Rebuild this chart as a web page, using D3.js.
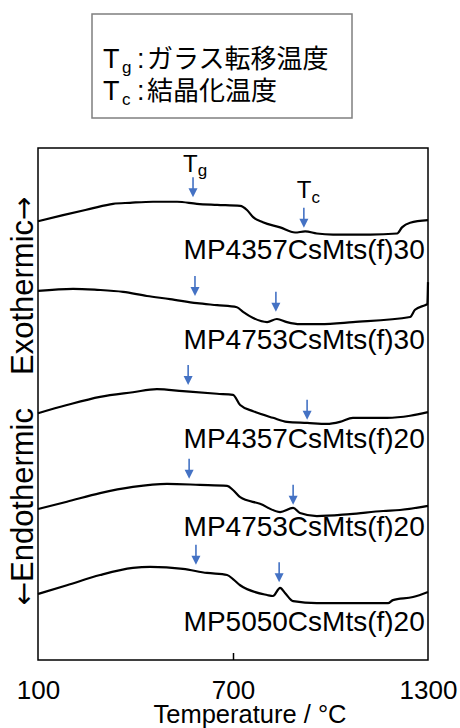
<!DOCTYPE html>
<html lang="ja">
    <head>
        <meta charset="utf-8">
        <title>DTA curves</title>
        <script type="text/javascript" src="https://d3js.org/d3.v7.min.js"></script>
        <style type="text/css">
            body{
                margin: 0;
                background: #fff;
            }
            text{
                font-family: 'Liberation Sans', Arial, 'Noto Sans CJK JP', sans-serif;
                fill: #000;
            }
            .curve{
                fill: none;
                stroke: #000;
                stroke-width: 2.2;
                stroke-linejoin: round;
            }
            .marker line{
                stroke: #4472c4;
                stroke-width: 1.6;
            }
            .marker path{
                fill: #4472c4;
            }
            .arrowglyph{
                font-family: 'DejaVu Sans', sans-serif;
            }
        </style>
    </head>

    <body>
        <script type="text/javascript">
            // chart dimensions
            const svgW = 460;
            const svgH = 728;

            // DTA signal (arbitrary units, curves stacked) [temperature(°C), signal]
            const mp4357_30 = [[100,85.7],[177,86.9],[260,88.1],[331,89.1],[383,89.3],[454,89.5],[528,89.5],
                               [589,89.1],[651,88.9],[722,88.7],[743,87.9],[762,86.5],[792,85.5],[845,84.5],
                               [891,83.5],[922,83.7],[958,83.3],[1008,83.1],[1122,83.1],[1205,83.3],[1220,84.5],
                               [1245,85.4],[1300,85.9]];
            const mp4753_30 = [[100,72.1],[208,72.5],[282,72.3],[362,71.9],[435,71.1],[506,70.5],[589,69.7],
                               [651,69.3],[712,68.9],[731,68.0],[762,66.8],[805,66.0],[835,66.6],[866,66.0],
                               [906,65.6],[968,65.6],[1069,66.0],[1245,67.0],[1260,68.4],[1291,69.3],[1298,69.5],
                               [1300,73.8]];
            const mp4357_20 = [[100,48.2],[189,49.8],[291,51.4],[392,52.3],[466,52.9],[546,52.5],[651,52.0],
                               [700,51.8],[722,49.8],[762,48.6],[823,47.3],[866,46.5],[928,46.3],[989,46.1],
                               [1029,46.5],[1069,47.3],[1174,47.3],[1245,47.7],[1300,48.4]];
            const mp4753_20 = [[100,29.5],[189,30.9],[291,32.6],[392,33.8],[497,34.4],[598,34.2],[682,34.0],
                               [700,33.2],[722,31.8],[783,30.5],[845,28.9],[885,29.7],[906,28.7],[958,28.1],
                               [1060,28.5],[1162,29.1],[1214,29.3],[1300,30.1]];
            const mp5050_20 = [[100,12.9],[189,14.6],[291,16.6],[392,18.0],[445,18.2],[546,17.8],[620,17.0],
                               [682,16.6],[700,15.8],[722,14.6],[805,12.7],[823,12.5],[845,14.1],[860,13.1],
                               [885,11.5],[958,11.1],[1112,11.1],[1177,11.1],[1192,11.7],[1254,12.3],[1300,13.3]];

            const curves = [mp4357_30, mp4753_30, mp4357_20, mp4753_20, mp5050_20];
            const sampleNames = ["MP4357CsMts(f)30", "MP4753CsMts(f)30", "MP4357CsMts(f)20",
                                 "MP4753CsMts(f)20", "MP5050CsMts(f)20"];
            const labelLevels = [78.3, 60.7, 41.4, 24.2, 5.7];

            // glass transition / crystallisation temperatures [temperature, arrow tip signal]
            const tgMarks = [[577,90.4],[583,71.1],[562,53.7],[565,35.4],[586,18.6]];
            const tcMarks = [[918,84.4],[832,68.0],[928,46.9],[885,30.3],[842,15.2]];

            const xTicks = [100, 700, 1300];

            // plot area
            const plotL = 38, plotR = 428, plotT = 148, plotB = 660;

            const scaleX = d3.scaleLinear()
                            .domain([100, 1300])
                            .range([plotL, plotR]);
            const scaleY = d3.scaleLinear()
                            .domain([0, 100])
                            .range([plotB, plotT]);

            const svg = d3.select("body")
                        .append("svg")
                        .attr("width", svgW)
                        .attr("height", svgH);

            // legend box
            svg.append("rect")
                .attr("x", 92).attr("y", 14)
                .attr("width", 260).attr("height", 104)
                .attr("fill", "none")
                .attr("stroke", "#7f7f7f")
                .attr("stroke-width", 1.5);

            const legendRows = [["g", "ガラス転移温度", 68], ["c", "結晶化温度", 100]];
            legendRows.forEach(r => {
                const t = svg.append("text").attr("y", r[2]).style("font-size", "27px");
                t.append("tspan").attr("x", 103).text("T");
                t.append("tspan").attr("x", 122).attr("dy", 5).style("font-size", "17px").text(r[0]);
                t.append("tspan").attr("x", 137).attr("dy", -5).text(":");
                t.append("tspan").attr("x", 147).style("font-size", "26px").text(r[1]);
            });

            // frame
            svg.append("rect")
                .attr("x", plotL).attr("y", plotT)
                .attr("width", plotR - plotL).attr("height", plotB - plotT)
                .attr("fill", "none")
                .attr("stroke", "#000")
                .attr("stroke-width", 1.5);

            // bottom axis, ticks pointing inwards
            const bottomAxis = d3.axisBottom(scaleX)
                                .tickValues(xTicks)
                                .tickSizeInner(-7)
                                .tickSizeOuter(0)
                                .tickPadding(21)
                                .tickFormat(d3.format("d"));
            const gx = svg.append("g")
                .attr("transform", "translate(0," + plotB + ")")
                .call(bottomAxis);
            gx.select(".domain").remove();
            gx.selectAll("line").attr("stroke", "#000").attr("stroke-width", 1.5);
            gx.selectAll("text")
                .attr("fill", "#000")
                .style("font-size", "26px")
                .style("font-family", "'Liberation Sans', Arial, sans-serif");
            gx.selectAll(".tick").filter(d => d !== 700).select("line").remove();

            svg.append("text")
                .attr("x", 250).attr("y", 723)
                .attr("text-anchor", "middle")
                .style("font-size", "25.5px")
                .text("Temperature / °C");

            // y label
            const yl = svg.append("g").attr("transform", "translate(33,0)");
            const exo = yl.append("text")
                .attr("transform", "translate(0,375) rotate(-90)")
                .style("font-size", "31px");
            exo.append("tspan").text("Exothermic");
            exo.append("tspan").attr("class", "arrowglyph").style("font-size", "28px").text("→");
            const endo = yl.append("text")
                .attr("transform", "translate(0,408) rotate(-90)")
                .attr("text-anchor", "end")
                .style("font-size", "31px");
            endo.append("tspan").attr("class", "arrowglyph").style("font-size", "28px").text("←");
            endo.append("tspan").text("Endothermic");

            // curves
            const line = d3.line()
                        .x(d => scaleX(d[0]))
                        .y(d => scaleY(d[1]))
                        .curve(d3.curveMonotoneX);

            svg.selectAll("path.curve")
                .data(curves)
                .enter()
                .append("path")
                .attr("class", "curve")
                .attr("d", line);

            svg.selectAll("text.name")
                .data(sampleNames)
                .enter()
                .append("text")
                .attr("class", "name")
                .attr("x", scaleX(1290))
                .attr("y", (d, i) => scaleY(labelLevels[i]))
                .attr("text-anchor", "end")
                .style("font-size", "28px")
                .text(d => d);

            // arrows
            const drawArrow = function(m){
                const g = svg.append("g")
                    .attr("class", "marker")
                    .attr("transform", "translate(" + scaleX(m[0]) + "," + scaleY(m[1]) + ")");
                g.append("line").attr("x1", 0).attr("x2", 0).attr("y1", -20).attr("y2", -6);
                g.append("path").attr("d", "M-4.5,-9L4.5,-9L0,0Z");
            };
            tgMarks.forEach(drawArrow);
            tcMarks.forEach(drawArrow);

            // Tg / Tc labels over the top curve
            const tgLab = svg.append("text")
                .attr("x", scaleX(tgMarks[0][0]) - 10)
                .attr("y", 172)
                .style("font-size", "24px");
            tgLab.append("tspan").text("T");
            tgLab.append("tspan").attr("dy", 4).style("font-size", "17px").text("g");

            const tcLab = svg.append("text")
                .attr("x", scaleX(tcMarks[0][0]) - 7)
                .attr("y", 198)
                .style("font-size", "24px");
            tcLab.append("tspan").text("T");
            tcLab.append("tspan").attr("dy", 5).style("font-size", "17px").text("c");
        </script>
    </body>
</html>
